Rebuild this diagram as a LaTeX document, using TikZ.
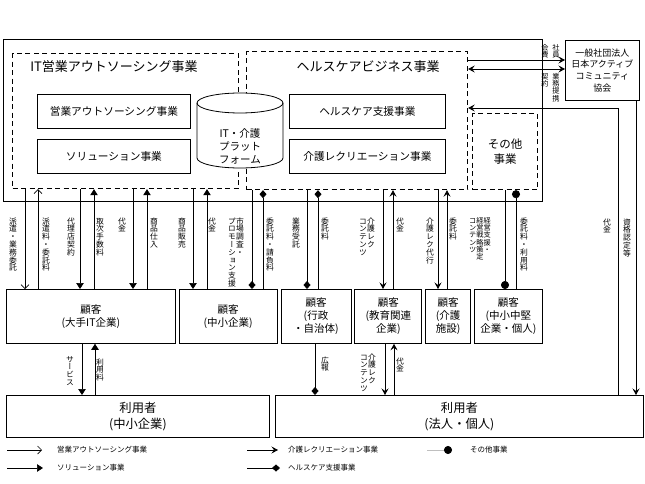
\documentclass[tikz,border=0pt]{standalone}
\usepackage{fontspec}
\setmainfont{Noto Sans CJK JP}
\newfontfamily\tatefont[RawFeature=+vert]{Noto Sans CJK JP}
\usetikzlibrary{positioning, arrows.meta}

% vertical (tategaki) labels: one glyph per row, columns read right to left
\newcommand\tate[1]{\vtop{\offinterlineskip\tatefont\tateloop#1\relax}}
\def\tateloop#1{\ifx\relax#1\else\hbox to 1em{\vrule height .88em depth .12em width 0pt\hss#1\hss}\expandafter\tateloop\fi}
\newcommand\tatetwo[2]{\hbox{\tate{#2}\tate{#1}}}
\newcommand\tatethree[3]{\hbox{\tate{#3}\tate{#2}\tate{#1}}}

\tikzstyle{dashbox} = [rectangle, draw=black, line width=1.2pt, dash pattern=on 5pt off 3.5pt, anchor=north west, inner sep=0pt]
\tikzstyle{subbox} = [rectangle, draw=black, line width=0.8pt, minimum width=153pt, minimum height=34pt, text centered, font=\fontsize{10.7}{13}\selectfont]
\tikzstyle{custbox} = [rectangle, draw=black, line width=0.8pt, minimum height=54pt, align=center, inner sep=0pt, font=\fontsize{10.5}{12.8}\selectfont]
\tikzstyle{userbox} = [rectangle, draw=black, line width=0.8pt, minimum height=42pt, align=center, anchor=north west, font=\fontsize{12.3}{16}\selectfont]
\tikzstyle{tatelabel} = [inner sep=0pt, anchor=north, font=\fontsize{7.8}{7.8}\selectfont]
\tikzstyle{legendtext} = [anchor=west, inner sep=0pt, font=\fontsize{7.5}{9}\selectfont]
\tikzstyle{flow} = [line width=0.7pt]
\tikzstyle{arrowout} = [flow, -{Straight Barb[length=4pt,width=8pt]}]
\tikzstyle{arrowsol} = [flow, -{Triangle[length=6pt,width=7.5pt]}]
\tikzstyle{arrowkaigo} = [flow, -{Stealth[length=6.5pt,width=7pt,inset=2.5pt]}]
\tikzstyle{arrowhc} = [flow, -{Diamond[length=8pt,width=7pt]}]
\tikzstyle{arrowetc} = [flow, -{Circle[length=8pt]}]

\begin{document}
\begin{tikzpicture}[x=1pt, y=-1pt, node distance=3pt]
    \useasboundingbox (0,0) rectangle (645,484);

    \node (outer) [rectangle, draw=black, line width=0.8pt, minimum width=539pt, minimum height=162pt, anchor=north west, inner sep=0pt] at (3,39) {};

    % IT business
    \node (itbiz) [dashbox, minimum width=226pt, minimum height=135pt] at (12,53) {};
    \node (ittitle) [font=\fontsize{13}{15}\selectfont] at (114,67) {IT営業アウトソーシング事業};
    \node (itsub1) [subbox, anchor=north west] at (37,94) {営業アウトソーシング事業};
    \node (itsub2) [subbox, below=10pt of itsub1] {ソリューション事業};

    % healthcare business
    \node (hcbiz) [dashbox, minimum width=221pt, minimum height=138pt] at (246,51) {};
    \node (hctitle) [font=\fontsize{13}{15}\selectfont] at (368,67) {ヘルスケアビジネス事業};
    \node (hcsub1) [subbox, minimum width=156pt, anchor=north west] at (289,94) {ヘルスケア支援事業};
    \node (hcsub2) [subbox, minimum width=156pt, below=10pt of hcsub1] {介護レクリエーション事業};

    \node (etc) [dashbox, minimum width=65pt, minimum height=76pt, align=center, font=\fontsize{11.5}{15}\selectfont] at (472,113) {その他\\事業};

    % platform
    \filldraw[fill=white, line width=0.8pt] (197,103) -- (197,158) arc[start angle=180, end angle=0, x radius=43, y radius=10] -- (283,103) arc[start angle=0, end angle=-180, x radius=43, y radius=10] -- cycle;
    \draw[line width=0.8pt] (197,103) arc[start angle=180, end angle=0, x radius=43, y radius=10];
    \node (platform) [align=center, font=\fontsize{10.5}{13}\selectfont] at (240,146) {IT・介護\\プラット\\フォーム};

    \node (jacca) [rectangle, draw=black, line width=0.8pt, minimum width=74pt, minimum height=60pt, anchor=north west, align=center, inner sep=0pt, font=\fontsize{9}{11.7}\selectfont] at (565,40) {一般社団法人\\日本アクティブ\\コミュニティ\\協会};

    % customers
    \node (cust1) [custbox, minimum width=169pt, anchor=north west] at (6,289) {顧客\\(大手IT企業)};
    \node (cust2) [custbox, minimum width=98pt, right=of cust1] {顧客\\(中小企業)};
    \node (cust3) [custbox, minimum width=70pt, right=of cust2] {顧客\\(行政\\・自治体)};
    \node (cust4) [custbox, minimum width=67pt, right=of cust3] {顧客\\(教育関連\\企業)};
    \node (cust5) [custbox, minimum width=45pt, right=of cust4] {顧客\\(介護\\施設)};
    \node (cust6) [custbox, minimum width=68pt, right=of cust5] {顧客\\(中小中堅\\企業・個人)};

    \node (user1) [userbox, minimum width=263pt] at (6,395) {利用者\\(中小企業)};
    \node (user2) [userbox, minimum width=368pt] at (275,395) {利用者\\(法人・個人)};

    % IT business <-> customers
    \draw[arrowout] (itbiz.south -| 25,0) -- (cust1.north -| 25,0);
    \draw[arrowout] (cust1.north -| 38,0) -- (itbiz.south -| 38,0);
    \draw[arrowsol] (itbiz.south -| 80,0) -- (cust1.north -| 80,0);
    \draw[arrowsol] (cust1.north -| 94,0) -- (itbiz.south -| 94,0);
    \draw[arrowsol] (itbiz.south -| 133,0) -- (cust1.north -| 133,0);
    \draw[arrowsol] (cust1.north -| 147,0) -- (itbiz.south -| 147,0);
    \draw[arrowsol] (itbiz.south -| 193,0) -- (cust2.north -| 193,0);
    \draw[arrowsol] (cust2.north -| 207,0) -- (itbiz.south -| 207,0);

    % healthcare <-> customers
    \draw[arrowhc] (hcbiz.south -| 252,0) -- (cust2.north -| 252,0);
    \draw[arrowhc] (cust2.north -| 263,0) -- (hcbiz.south -| 263,0);
    \draw[arrowhc] (hcbiz.south -| 307,0) -- (cust3.north -| 307,0);
    \draw[arrowhc] (cust3.north -| 318,0) -- (hcbiz.south -| 318,0);
    \draw[arrowkaigo] (hcbiz.south -| 383,0) -- (cust4.north -| 383,0);
    \draw[arrowkaigo] (cust4.north -| 393,0) -- (hcbiz.south -| 393,0);
    \draw[arrowkaigo] (hcbiz.south -| 438,0) -- (cust5.north -| 438,0);
    \draw[arrowkaigo] (cust5.north -| 447,0) -- (hcbiz.south -| 447,0);
    \draw[arrowetc] (etc.south -| 505,0) -- (cust6.north -| 505,0);
    \draw[arrowetc] (cust6.north -| 516,0) -- (etc.south -| 516,0);

    % customers <-> users
    \draw[arrowsol] (cust1.south -| 82,0) -- (user1.north -| 82,0);
    \draw[arrowsol] (user1.north -| 95,0) -- (cust1.south -| 95,0);
    \draw[arrowhc] (cust3.south -| 315,0) -- (user2.north -| 315,0);
    \draw[arrowkaigo] (cust4.south -| 385,0) -- (user2.north -| 385,0);
    \draw[arrowkaigo] (user2.north -| 394,0) -- (cust4.south -| 394,0);

    % association
    \draw[arrowkaigo] (hcbiz.east |- 0,60) -- (jacca.west |- 0,60);
    \draw[flow, {Stealth[length=6.5pt,width=7pt,inset=2.5pt]}-{Stealth[length=6.5pt,width=7pt,inset=2.5pt]}] (hcbiz.east |- 0,69) -- (jacca.west |- 0,69);
    \draw[arrowkaigo] (jacca.south -| 636,0) -- (user2.north -| 636,0);
    \draw[arrowkaigo] (user2.north -| 618,0) -- (618,108) -- (hcbiz.east |- 0,108);

    % labels
    \node (l1) [tatelabel] at (13,217) {\tate{派遣・業務委託}};
    \node (l2) [tatelabel] at (46,217) {\tate{派遣料・委託料}};
    \node (l3) [tatelabel] at (71,217) {\tate{代理店契約}};
    \node (l4) [tatelabel] at (100,217) {\tate{取次手数料}};
    \node (l5) [tatelabel] at (122,217) {\tate{代金}};
    \node (l6) [tatelabel] at (154,217) {\tate{商品仕入}};
    \node (l7) [tatelabel] at (182,217) {\tate{商品販売}};
    \node (l8) [tatelabel] at (212,217) {\tate{代金}};
    \node (l9) [tatelabel] at (236,217) {\tatetwo{市場調査・}{プロモーション支援}};
    \node (l10) [tatelabel] at (270,217) {\tate{委託料・請負料}};
    \node (l11) [tatelabel] at (296,217) {\tate{業務受託}};
    \node (l12) [tatelabel] at (325,217) {\tate{委託料}};
    \node (l13) [tatelabel] at (367,217) {\tatetwo{介護レク}{コンテンツ}};
    \node (l14) [tatelabel] at (400,217) {\tate{代金}};
    \node (l15) [tatelabel] at (430,217) {\tate{介護レク代行}};
    \node (l16) [tatelabel] at (453,217) {\tate{委託料}};
    \node (l17) [tatelabel, font=\fontsize{7.2}{7.2}\selectfont] at (480,217) {\tatethree{経営支援・}{経営戦略策定}{コンテンツ}};
    \node (l18) [tatelabel] at (524,217) {\tate{委託料・利用料}};
    \node (l19) [tatelabel] at (607,218) {\tate{代金}};
    \node (l20) [tatelabel] at (627,218) {\tate{資格認定等}};
    \node (l21) [tatelabel] at (70,355) {\tate{サービス}};
    \node (l22) [tatelabel] at (100,358) {\tate{利用料}};
    \node (l23) [tatelabel] at (325,356) {\tate{広報}};
    \node (l24) [tatelabel] at (368,353) {\tatetwo{介護レク}{コンテンツ}};
    \node (l25) [tatelabel] at (400,357) {\tate{代金}};
    \node (l26) [tatelabel, font=\fontsize{7.2}{7.2}\selectfont] at (556,44) {\tate{社員}};
    \node (l27) [tatelabel, font=\fontsize{7.2}{7.2}\selectfont] at (545,44) {\tate{会費}};
    \node (l28) [tatelabel, font=\fontsize{7.2}{7.2}\selectfont] at (556,73) {\tate{業務提携}};
    \node (l29) [tatelabel, font=\fontsize{7.2}{7.2}\selectfont] at (545,73) {\tate{契約}};

    % legend
    \node (lg1) [legendtext] at (57,450) {営業アウトソーシング事業};
    \node (lg2) [legendtext] at (57,468) {ソリューション事業};
    \node (lg3) [legendtext] at (288,450) {介護レクリエーション事業};
    \node (lg4) [legendtext] at (288,468) {ヘルスケア支援事業};
    \node (lg5) [legendtext] at (470,450) {その他事業};
    \draw[arrowout] ([xshift=-50pt]lg1.west) -- ([xshift=-15pt]lg1.west);
    \draw[arrowsol] ([xshift=-50pt]lg2.west) -- ([xshift=-14pt]lg2.west);
    \draw[arrowkaigo] ([xshift=-41pt]lg3.west) -- ([xshift=-10pt]lg3.west);
    \draw[arrowhc] ([xshift=-41pt]lg4.west) -- ([xshift=-8pt]lg4.west);
    \draw[flow, gray!50, -{Circle[length=8pt,black]}] ([xshift=-43pt]lg5.west) -- ([xshift=-18pt]lg5.west);
\end{tikzpicture}
\end{document}
